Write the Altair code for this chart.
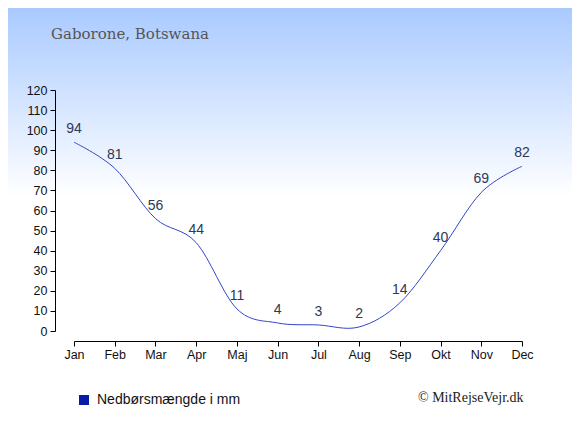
import altair as alt
import pandas as pd

months = ["Jan", "Feb", "Mar", "Apr", "Maj", "Jun", "Jul", "Aug", "Sep", "Okt", "Nov", "Dec"]
rain = [94, 81, 56, 44, 11, 4, 3, 2, 14, 40, 69, 82]
series_name = "Nedbørsmængde i mm"
y_ticks = list(range(0, 121, 10))

df = pd.DataFrame({"month": months, "rain": rain, "series": [series_name] * len(months)})

W, H = 448, 241
PL, PT, PR, PB = 66, 82, 50, 96
TW, TH = PL + W + PR, PT + H + PB

x_enc = alt.X(
    "month:N", sort=months,
    scale=alt.Scale(type="point", padding=0),
    axis=alt.Axis(title=None, labelAngle=0, offset=10, tickSize=5, labelPadding=2, zindex=2,
                  domainColor="#000000", tickColor="#000000",
                  labelFont="Liberation Sans", labelFontSize=12.5, labelColor="#111111"),
)
y_enc = alt.Y(
    "rain:Q",
    scale=alt.Scale(domain=[0, 120], nice=False),
    axis=alt.Axis(title=None, values=y_ticks, offset=19, tickSize=5, labelPadding=3, grid=False,
                  zindex=2, domainColor="#000000", tickColor="#000000",
                  labelFont="Liberation Sans", labelFontSize=12.5, labelColor="#111111"),
)

bg = alt.Chart(pd.DataFrame({"a": [0]})).mark_rect(
    fill=alt.Gradient(
        gradient="linear",
        stops=[alt.GradientStop(color="#a9caff", offset=0),
               alt.GradientStop(color="#ffffff", offset=0.45),
               alt.GradientStop(color="#ffffff", offset=1)],
        x1=0, y1=0, x2=0, y2=1),
).encode(x=alt.value(-PL), x2=alt.value(TW - PL), y=alt.value(-PT), y2=alt.value(TH - PT))

line = alt.Chart(df).mark_line(interpolate="cardinal", strokeWidth=1).encode(
    x=x_enc, y=y_enc,
    color=alt.Color("series:N", scale=alt.Scale(range=["#3344cc"]),
                    legend=alt.Legend(title=None, orient="none", legendX=3, legendY=303,
                                      symbolType="square", symbolSize=100,
                                      symbolFillColor="#0a1aa8", symbolStrokeColor="#0a1aa8",
                                      symbolStrokeWidth=0, padding=0, labelOffset=6,
                                      labelFont="Liberation Sans", labelFontSize=14,
                                      labelColor="#111111")),
)

labels = alt.Chart(df).mark_text(dy=-9, baseline="alphabetic", fontSize=14,
                                 font="Liberation Sans", color="#2b3a55").encode(
    x=x_enc, y=y_enc, text="rain:Q")

credit = alt.Chart(pd.DataFrame({"t": ["© MitRejseVejr.dk"]})).mark_text(
    align="left", baseline="alphabetic", font="Liberation Serif", fontSize=14, color="#222222"
).encode(x=alt.value(344), y=alt.value(312), text="t:N")

chart = alt.layer(bg, line, labels, credit).properties(
    width=W, height=H,
    autosize=alt.AutoSizeParams(type="none"),
    padding={"left": PL, "top": PT, "right": PR, "bottom": PB},
    title=alt.TitleParams("Gaborone, Botswana", anchor="start", frame="group", dx=-23,
                          font="DejaVu Serif", fontSize=15, fontWeight="normal",
                          color="#555555", offset=-46, baseline="alphabetic"),
).configure_view(stroke=None).configure(background="#ffffff")

chart.save("out.html", embed_options={"renderer": "svg", "actions": False})
